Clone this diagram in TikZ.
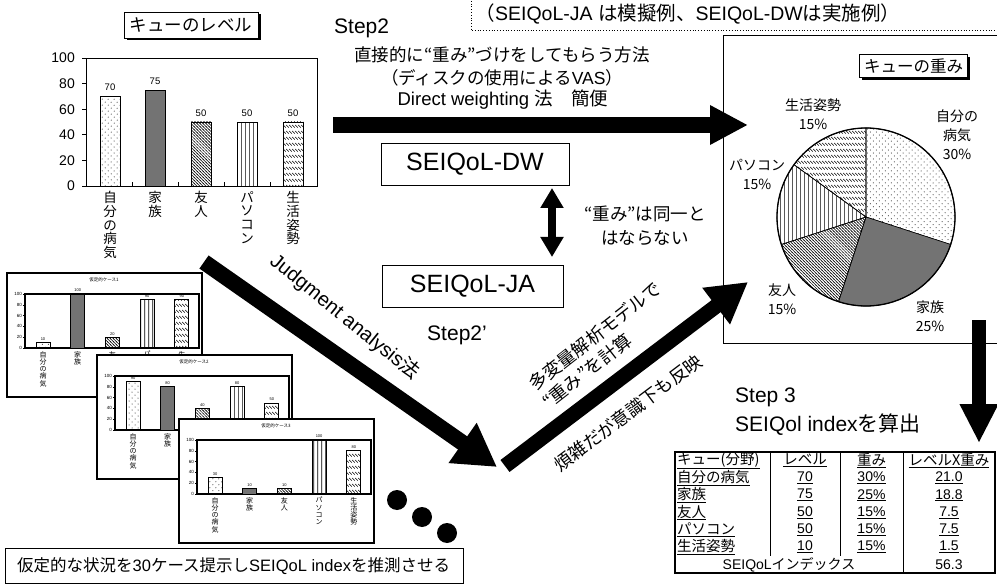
\documentclass[tikz,border=0pt]{standalone}
\usepackage{fontspec}
\setmainfont{Liberation Sans}
\newfontfamily\jp{Noto Sans CJK JP}
\usetikzlibrary{arrows.meta,patterns,shadows,calc}
\newcommand\fsz[2]{\fontsize{#1bp}{#2bp}\selectfont}
\pgfdeclarepatternformonly{sdots}{\pgfpoint{-1pt}{-1pt}}{\pgfpoint{7pt}{7pt}}{\pgfpoint{6pt}{6pt}}{%
 \pgfpathcircle{\pgfpoint{0.6pt}{0.6pt}}{0.5pt}\pgfpathcircle{\pgfpoint{3.6pt}{3.6pt}}{0.5pt}\pgfusepath{fill}}
\pgfdeclarepatternformonly{vlines}{\pgfpointorigin}{\pgfpoint{3.6pt}{1pt}}{\pgfpoint{3.6pt}{1pt}}{%
 \pgfsetlinewidth{0.7pt}\pgfpathmoveto{\pgfpoint{1.8pt}{-0.1pt}}\pgfpathlineto{\pgfpoint{1.8pt}{1.1pt}}\pgfusepath{stroke}}
\pgfdeclarepatternformonly{dashdiag}{\pgfpointorigin}{\pgfpoint{3pt}{6pt}}{\pgfpoint{3pt}{6pt}}{%
 \pgfsetlinewidth{0.5pt}\pgfpathmoveto{\pgfpoint{0.2pt}{5pt}}\pgfpathlineto{\pgfpoint{2.8pt}{2.4pt}}\pgfusepath{stroke}}
\pgfdeclarepatternformonly{nwl}{\pgfpoint{-1pt}{-1pt}}{\pgfpoint{4pt}{4pt}}{\pgfpoint{3pt}{3pt}}{%
 \pgfsetlinewidth{0.5pt}\pgfpathmoveto{\pgfpoint{-0.5pt}{3.5pt}}\pgfpathlineto{\pgfpoint{3.5pt}{-0.5pt}}\pgfusepath{stroke}}
\tikzset{
  ttl/.style={draw, fill=white, line width=0.8bp, inner xsep=3bp, inner ysep=2.5bp,
     drop shadow={shadow xshift=2.5bp, shadow yshift=-2.5bp, fill=black, opacity=1}},
  bar/.style={draw, line width=0.9bp},
  pA/.style={pattern=sdots}, pB/.style={fill=black!55}, pC/.style={pattern=nwl},
  pD/.style={pattern=vlines}, pE/.style={pattern=dashdiag},
  bigarrow/.style={line width=16bp, -{Triangle[length=38bp,width=37bp]}},
  vtxt/.style={anchor=north, align=center},
  frm/.style={draw=black, line width=1.2bp},
}
\newcommand\casechart[8]{%
\begin{scope}[shift={(#1,#2)}]
\draw[fill=white,line width=1.1bp] (0,0) rectangle (195,124);
\draw[frm] (18,21) -- (192,21) -- (192,75) -- (18,75) -- cycle;
\node[font=\jp\fsz{4.5}{5}] (ct#3) at (97,7) {仮定的ケース#3};
\foreach \v in {0,20,...,100} {\node[anchor=east,font=\fsz{4.5}{5}] at (15,{75-0.54*\v}) {\v};
  \draw[line width=0.5bp] (16,{75-0.54*\v}) -- (18,{75-0.54*\v});}
\foreach \i/\v/\s/\t in {0/#4/pA/{自\\分\\の\\病\\気},1/#5/pB/{家\\族},2/#6/pC/{友\\人},3/#7/pD/{パ\\ソ\\コ\\ン},4/#8/pE/{生\\活\\姿\\勢}} {
 \draw[bar,\s,line width=0.8bp] ({29+34.7*\i},75) rectangle ({43+34.7*\i},{75-0.54*\v});
 \node[font=\fsz{4}{4}] at ({36+34.7*\i},{75-0.54*\v-3.5}) {\v};
 \node[vtxt,font=\jp\fsz{7}{7.3}] at ({36+34.7*\i},78) {\t};
}
\end{scope}}
\begin{document}
\begin{tikzpicture}[x=1bp,y=-1bp, every node/.style={inner sep=0pt}]
\useasboundingbox (0,0) rectangle (997,584);
\fill[white] (0,0) rectangle (997,584);

% ---------- top-left level chart ----------
\node[ttl, font=\jp\fsz{17.5}{17.5}, minimum width=134bp, minimum height=26bp] (lvltitle) at (191,25) {キューのレベル};
\draw[line width=0.9bp] (86,58) rectangle (317,186);
\foreach \v in {0,20,...,100} {
  \node[anchor=east, font=\fsz{14}{14}] (yl\v) at (75,{186-1.28*\v}) {\v};
  \draw[line width=0.8bp] (82,{186-1.28*\v}) -- (86,{186-1.28*\v});}
\foreach \x in {132,178,224,270} \draw[line width=0.8bp] (\x,186) -- (\x,182);
\foreach \xl/\v/\s in {100/70/pA,145/75/pB,191/50/pC,237/50/pD,283/50/pE} {
  \draw[bar,\s] (\xl,186) rectangle (\xl+20,{186-1.28*\v});
  \node[font=\fsz{9.5}{10}] (bv\xl) at (\xl+10,{186-1.28*\v-9}) {\v};}
\foreach \x/\t in {110/{自\\分\\の\\病\\気}, 155/{家\\族}, 201/{友\\人}, 247/{パ\\ソ\\コ\\ン}, 293/{生\\活\\姿\\勢}}
  \node[vtxt, font=\jp\fsz{13.5}{13.8}] (cat\x) at (\x,191) {\t};

% ---------- case charts ----------
\casechart{7}{273}{1}{10}{100}{20}{90}{90}
\casechart{97}{355}{2}{90}{80}{40}{80}{50}
\casechart{179}{419}{3}{30}{10}{10}{100}{80}

\fill (397,500) circle (10);
\fill (422,517) circle (10);
\fill (447,533) circle (10);

\draw[line width=1bp] (5,548) rectangle (463,583);
\node[anchor=west, font=\fsz{16.5}{17}] (cap) at (17,566) {{\jp 仮定的な状況を}30{\jp ケース提示し}SEIQoL index{\jp を推測させる}};

% ---------- top texts ----------
\draw[dotted, line width=0.8bp] (471,-2) -- (471,30.5) -- (1000,30.5);
\node[font=\fsz{19.5}{20}] (note) at (688,14) {{\jp （}SEIQoL-JA {\jp は模擬例、}SEIQoL-DW{\jp は実施例）}};
\node[anchor=west, font=\fsz{21}{21}] (s2) at (334,28) {Step2};
\node[font=\jp\fsz{17.5}{18}] (dw1) at (502,55) {直接的に“重み”づけをしてもらう方法};
\node[font=\fsz{17.5}{18}] (dw2) at (502,78) {{\jp （ディスクの使用による}VAS{\jp ）}};
\node[font=\fsz{18.5}{19}] (dw3) at (503,100) {Direct weighting {\jp 法　簡便}};

% ---------- method boxes ----------
\node[draw, line width=0.8bp, minimum width=188bp, minimum height=42bp, font=\fsz{25}{25}] (dw) at (475,164) {SEIQoL-DW};
\node[draw, line width=0.8bp, minimum width=181bp, minimum height=42bp, font=\fsz{25}{25}] (ja) at (472.5,286) {SEIQoL-JA};
\coordinate (da1) at (552,188);
\coordinate (da2) at (552,257);
\draw[line width=8bp, {Triangle[length=20bp,width=22bp]}-{Triangle[length=20bp,width=22bp]}] (da1) -- (da2);
\node[font=\jp\fsz{17.5}{24}, align=center] (same) at (645,226) {“重み”は同一と\\はならない};
\node[font=\fsz{21}{21}] (s2p) at (457,335) {Step2’};

% ---------- pie chart ----------
\draw[line width=0.8bp] (723,35) rectangle (1010,343);
\node[ttl, font=\jp\fsz{16.5}{16.5}, minimum width=108bp, minimum height=23bp] (wtitle) at (913.5,66) {キューの重み};
\coordinate (pc) at (866,217);
\draw[line width=0.6bp, pA] (pc) -- ++(-90:89) arc[start angle=-90, end angle=18, radius=89] -- cycle;
\draw[line width=0.6bp, pB] (pc) -- ++(18:89) arc[start angle=18, end angle=108, radius=89] -- cycle;
\draw[line width=0.6bp, pC] (pc) -- ++(108:89) arc[start angle=108, end angle=162, radius=89] -- cycle;
\draw[line width=0.6bp, pD] (pc) -- ++(162:89) arc[start angle=162, end angle=216, radius=89] -- cycle;
\draw[line width=0.6bp, pE] (pc) -- ++(216:89) arc[start angle=216, end angle=270, radius=89] -- cycle;
\draw[line width=1.3bp] (pc) circle (89);
\node[font=\jp\fsz{14}{19}, align=center] (l1) at (957,135) {自分の\\病気\\30\%};
\node[font=\jp\fsz{14}{19}, align=center] (l5) at (813,114) {生活姿勢\\15\%};
\node[font=\jp\fsz{14}{19}, align=center] (l4) at (757,174) {パソコン\\15\%};
\node[font=\jp\fsz{14}{19}, align=center] (l3) at (782,299) {友人\\15\%};
\node[font=\jp\fsz{14}{19}, align=center] (l2) at (930,316) {家族\\25\%};

% ---------- arrows ----------
\coordinate (h1) at (333,125); \coordinate (h2) at (748,125);
\coordinate (j1) at (204,262); \coordinate (j2) at (497,467);
\coordinate (u1) at (505,466); \coordinate (u2) at (748,282);
\coordinate (d1) at (979,320); \coordinate (d2) at (979,443);
\draw[bigarrow] (h1) -- (h2);
\draw[line width=16bp, -{Triangle[length=42bp,width=46bp]}] (j1) -- (j2);
\draw[line width=15bp, -{Triangle[length=40bp,width=43bp]}] (u1) -- (u2);
\draw[line width=14bp, -{Triangle[length=39bp,width=36bp]}] (d1) -- (d2);
\node[font=\fsz{20}{20}, rotate=-39] (jlab) at (345,317) {Judgment analysis{\jp 法}};
\node[font=\jp\fsz{18}{18}, rotate=38] (ml1) at (595,336) {多変量解析モデルで};
\node[font=\jp\fsz{18}{18}, rotate=38] (ml2) at (587,371) {“重み”を計算};
\node[font=\jp\fsz{18}{18}, rotate=37] (ml3) at (628,413) {煩雑だが意識下も反映};

% ---------- step 3 ----------
\node[anchor=west, font=\fsz{21}{21}] (s3a) at (735,397) {Step 3};
\node[anchor=west, font=\fsz{21}{21}] (s3b) at (735,425) {SEIQol index{\jp を算出}};

% ---------- table ----------
\draw[line width=1.5bp] (675,452) rectangle (995,573);
\foreach \x in {770,840} \draw[line width=0.8bp] (\x,452) -- (\x,555.8);
\draw[line width=0.8bp] (903,452) -- (903,573);
\node[anchor=west, font=\jp\fsz{14.5}{15}] (th1) at (677,460.6) {\underline{キュー(分野)}};
\node[font=\jp\fsz{14.5}{15}] (th2) at (805,460.6) {\underline{レベル}};
\node[font=\jp\fsz{14.5}{15}] (th3) at (871.5,460.6) {\underline{重み}};
\node[font=\jp\fsz{14.5}{15}] (th4) at (949,460.6) {\underline{レベルX重み}};
\foreach \r/\a/\b/\c/\d in {1/自分の病気/70/30\%/21.0, 2/家族/75/25\%/18.8, 3/友人/50/15\%/7.5, 4/パソコン/50/15\%/7.5, 5/生活姿勢/10/15\%/1.5} {
  \node[anchor=west, font=\jp\fsz{14.5}{15}] (ta\r) at (677,{460.6+17.3*\r}) {\underline{\a}};
  \node[font=\fsz{14}{15}] (tb\r) at (805,{460.6+17.3*\r}) {\underline{\b}};
  \node[font=\fsz{14}{15}] (tc\r) at (871.5,{460.6+17.3*\r}) {\underline{\c}};
  \node[font=\fsz{14}{15}] (td\r) at (949,{460.6+17.3*\r}) {\underline{\d}};
}
\node[font=\fsz{14}{15}] (tsum) at (789,564.5) {SEIQoL{\jp インデックス}};
\node[font=\fsz{14}{15}] (tval) at (949,564.5) {56.3};
\end{tikzpicture}
\end{document}
